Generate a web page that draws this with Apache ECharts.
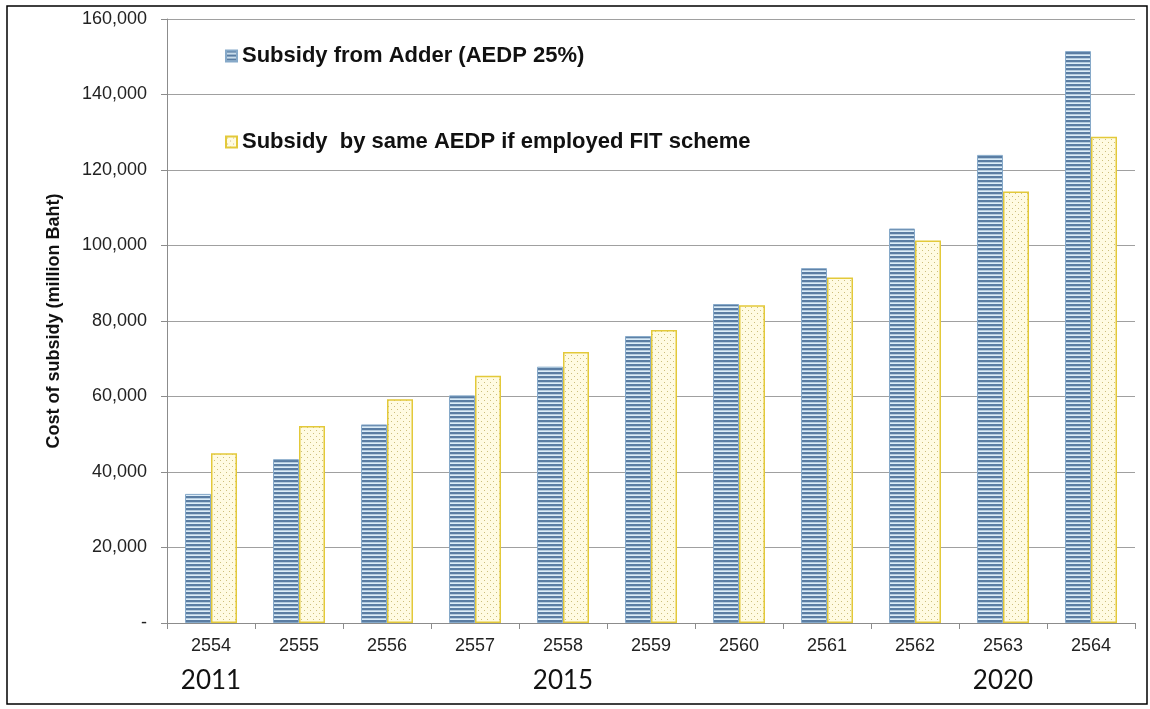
<!DOCTYPE html>
<html>
<head>
<meta charset="utf-8">
<script src="https://cdn.jsdelivr.net/npm/echarts@6/dist/echarts.min.js"></script>
<style>
  html, body { margin: 0; padding: 0; background: #fff; }
  #main { width: 1150px; height: 709px; }
</style>
</head>
<body>
<div id="main"></div>
<script>
// buddhist year on the axis, western year shown under some of them
const categories = ["2554", "2555", "2556", "2557", "2558", "2559", "2560", "2561", "2562", "2563", "2564"];
const westernYears = ["2011", "", "", "", "2015", "", "", "", "", "2020", ""];

const adderValues = [34200, 43400, 52600, 60300, 67900, 76000, 84500, 94000, 104500, 124000, 151500];
const fitValues = [45000, 52200, 59300, 65500, 71800, 77600, 84200, 91500, 101300, 114300, 128800];

const yTicks = [0, 20000, 40000, 60000, 80000, 100000, 120000, 140000, 160000];

// striped fill for the adder bars
function stripePattern() {
  const c = document.createElement("canvas");
  c.width = 4;
  c.height = 4;
  const ctx = c.getContext("2d");
  ctx.fillStyle = "#dcedf8";
  ctx.fillRect(0, 0, 4, 4);
  ctx.fillStyle = "#5a7da3";
  ctx.fillRect(0, 0, 4, 2.3);
  return c;
}

// dotted fill for the FIT bars
function dotPattern() {
  const c = document.createElement("canvas");
  c.width = 6;
  c.height = 6;
  const ctx = c.getContext("2d");
  ctx.fillStyle = "#fffbe2";
  ctx.fillRect(0, 0, 6, 6);
  ctx.fillStyle = "#cdbf7c";
  ctx.fillRect(1, 1, 1, 1);
  ctx.fillRect(4, 4, 1, 1);
  return c;
}

const chart = echarts.init(document.getElementById("main"), null, { renderer: "canvas" });

const option = {
  animation: false,
  backgroundColor: "#fff",
  textStyle: { fontFamily: "Liberation Sans, Arial, sans-serif" },
  graphic: [
    {
      type: "rect",
      shape: { x: 7, y: 6, width: 1140, height: 698 },
      style: { fill: "none", stroke: "#000", lineWidth: 1.5 },
      silent: true,
    },
  ],
  grid: { left: 167, right: 15, top: 19, bottom: 86 },
  legend: {
    orient: "vertical",
    left: 220,
    top: 40,
    itemGap: 64,
    itemWidth: 11,
    itemHeight: 11,
    textStyle: { fontSize: 22, fontWeight: "bold", color: "#111" },
    data: [
      { name: "Subsidy from Adder (AEDP 25%)", icon: "rect" },
      { name: "Subsidy  by same AEDP if employed FIT scheme", icon: "rect" },
    ],
  },
  xAxis: {
    type: "category",
    data: categories,
    axisLine: { lineStyle: { color: "#8c8c8c" } },
    axisTick: { show: true, length: 6, lineStyle: { color: "#8c8c8c" } },
    axisLabel: {
      margin: 11,
      interval: 0,
      formatter: function (v, i) {
        const yr = westernYears[i];
        return "{a|" + v + "}\n{b|" + (yr || " ") + "}";
      },
      rich: {
        a: { fontSize: 18, color: "#222", lineHeight: 24, fontFamily: "Liberation Sans, Arial, sans-serif" },
        b: { fontSize: 26, color: "#111", lineHeight: 46, fontFamily: "Lato, Open Sans, sans-serif" },
      },
    },
  },
  yAxis: {
    type: "value",
    min: yTicks[0],
    max: yTicks[yTicks.length - 1],
    interval: 20000,
    name: "Cost of subsidy (million Baht)",
    nameLocation: "middle",
    nameGap: 104,
    nameTextStyle: { fontSize: 18, fontWeight: "bold", color: "#111" },
    axisLine: { show: true, lineStyle: { color: "#8c8c8c" } },
    axisTick: { show: true, length: 6, lineStyle: { color: "#8c8c8c" } },
    splitLine: { lineStyle: { color: "#a0a0a0", width: 1 } },
    axisLabel: {
      fontSize: 18,
      color: "#222",
      margin: 20,
      formatter: function (v) {
        return v === 0 ? "-" : v.toLocaleString("en-US");
      },
    },
  },
  series: [
    {
      name: "Subsidy from Adder (AEDP 25%)",
      type: "bar",
      data: adderValues,
      barWidth: 26,
      barGap: "0%",
      itemStyle: {
        color: { image: stripePattern(), repeat: "repeat" },
        borderColor: "#86a9c9",
        borderWidth: 1,
      },
    },
    {
      name: "Subsidy  by same AEDP if employed FIT scheme",
      type: "bar",
      data: fitValues,
      barWidth: 26,
      itemStyle: {
        color: { image: dotPattern(), repeat: "repeat" },
        borderColor: "#e3c93a",
        borderWidth: 1.5,
      },
    },
  ],
};

chart.setOption(option);
</script>
</body>
</html>
